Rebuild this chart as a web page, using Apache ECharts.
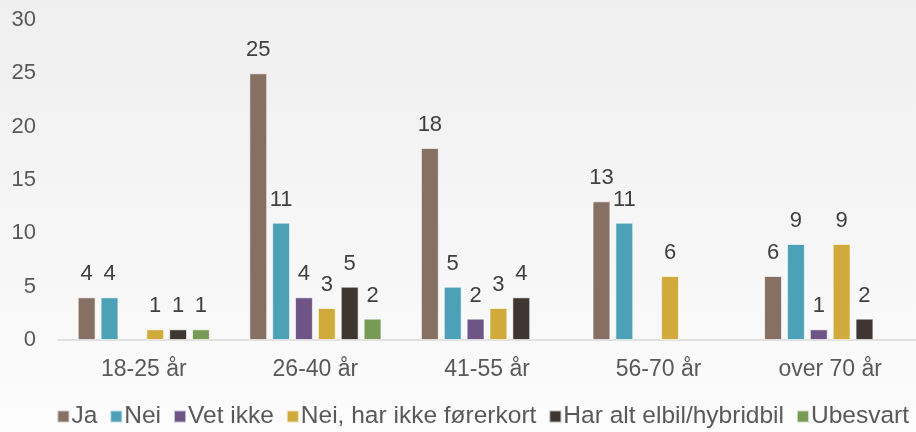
<!DOCTYPE html>
<html>
<head>
<meta charset="utf-8">
<script src="https://cdn.jsdelivr.net/npm/echarts@6/dist/echarts.min.js"></script>
<style>
  html, body { margin: 0; padding: 0; }
  #main { width: 916px; height: 432px; }
</style>
</head>
<body>
<div id="main"></div>
<script>
// aldersgrupper
var categories = ["18-25 år", "26-40 år", "41-55 år", "56-70 år", "over 70 år"];
var seriesNames = ["Ja", "Nei", "Vet ikke", "Nei, har ikke førerkort", "Har alt elbil/hybridbil", "Ubesvart"];
var ja = [4, 25, 18, 13, 6];
var nei = [4, 11, 5, 11, 9];
var vetIkke = [null, 4, 2, null, 1];
var ikkeForerkort = [1, 3, 3, 6, 9];
var harAlt = [1, 5, 4, null, 2];
var ubesvart = [1, 2, null, null, null];
var yTicks = [0, 5, 10, 15, 20, 25, 30];

var colors = ["#857063", "#4ca1b7", "#6e5586", "#d0ab3b", "#3f3632", "#779a57"];
var values = [ja, nei, vetIkke, ikkeForerkort, harAlt, ubesvart];

var myChart = echarts.init(document.getElementById("main"));

var series = [];
for (var i = 0; i < seriesNames.length; i++) {
  series.push({
    name: seriesNames[i],
    type: "bar",
    data: values[i],
    barGap: "28%",
    barCategoryGap: "23%",
    itemStyle: { color: colors[i], borderColor: "rgba(255,255,255,0.6)", borderWidth: 1 },
    label: {
      show: true,
      position: "top",
      distance: 12,
      color: "#404040",
      fontSize: 22,
      fontFamily: "Liberation Sans"
    }
  });
}

var option = {
  backgroundColor: {
    type: "linear", x: 0, y: 0, x2: 0, y2: 1,
    colorStops: [{ offset: 0, color: "#efefef" }, { offset: 1, color: "#fcfcfc" }]
  },
  color: colors,
  grid: { left: 58, right: -7, top: 20, bottom: 92, containLabel: false },
  legend: {
    bottom: -2,
    right: 2,
    itemWidth: 12,
    itemHeight: 12,
    itemGap: 12,
    icon: "rect",
    textStyle: { color: "#595959", fontSize: 24.5, fontFamily: "Liberation Sans", padding: [0, 0, 0, -3] },
    data: seriesNames
  },
  xAxis: {
    type: "category",
    data: categories,
    axisLine: { lineStyle: { color: "#d9d9d9", width: 1.5 } },
    axisTick: { show: false },
    axisLabel: { color: "#595959", fontSize: 23, fontFamily: "Liberation Sans", margin: 18 }
  },
  yAxis: {
    type: "value",
    min: yTicks[0],
    max: yTicks[yTicks.length - 1],
    interval: 5,
    splitLine: { show: false },
    axisLine: { show: false },
    axisTick: { show: false },
    axisLabel: { color: "#595959", fontSize: 22, fontFamily: "Liberation Sans", margin: 22 }
  },
  series: series
};

myChart.setOption(option);
</script>
</body>
</html>
